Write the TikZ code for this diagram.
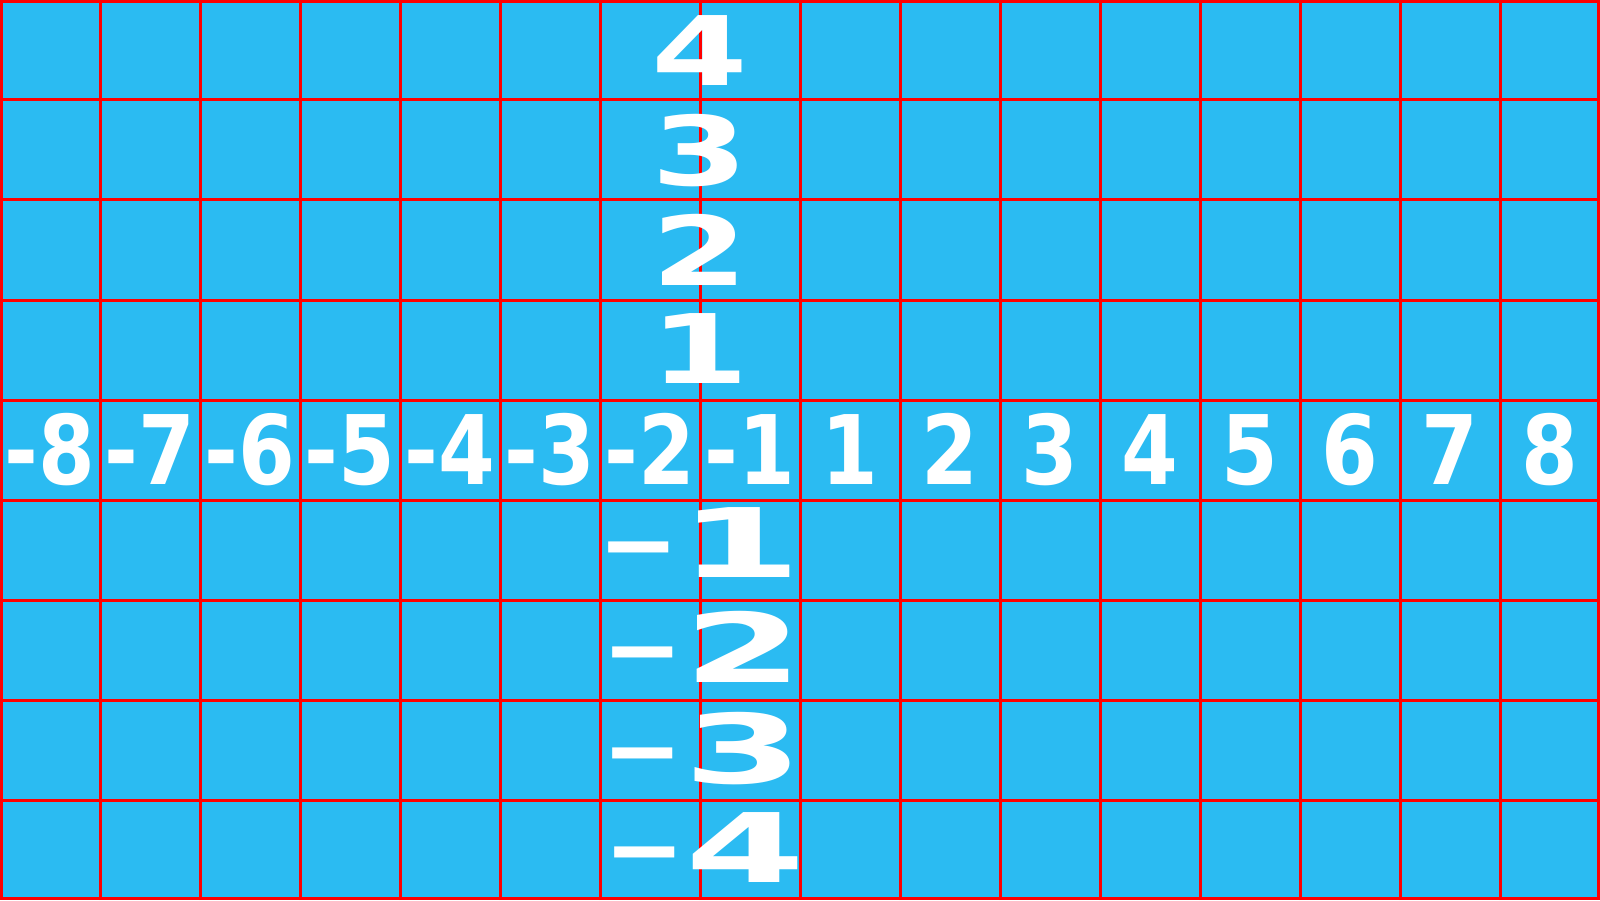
\documentclass[tikz,border=0pt]{standalone}
\usepackage{fontspec}
\setmainfont{DejaVu Sans}[BoldFont={DejaVu Sans Bold}]
\definecolor{bgblue}{RGB}{43,187,242}
\definecolor{gridred}{RGB}{255,0,0}
\tikzset{
  gridline/.style={draw=gridred, line width=0.03cm},
  lab/.style={text=white, inner sep=0pt, anchor=base, font=\fontsize{27.3}{30}\selectfont\bfseries}
}
\begin{document}
\begin{tikzpicture}
\useasboundingbox (0,0) rectangle (16,9);
\fill[bgblue] (0,0) rectangle (16,9);
% grid
\foreach \x in {1,...,15} \draw[gridline] (\x,0) -- (\x,9);
\foreach \y in {1,...,8} \draw[gridline] (0,\y) -- (16,\y);
\draw[gridline] (0.015,0.015) rectangle (15.985,8.985);
% x axis labels
\foreach \v [count=\i] in {8,7,6,5,4,3,2,1}
  \node[lab] (xm\v) at (\i-0.5,4.16) {\scalebox{0.85}[1]{-\v}};
\foreach \v in {1,...,8}
  \node[lab] (xp\v) at (7.5+\v,4.16) {\scalebox{0.85}[1]{\v}};
% y axis labels (positive)
\node[lab] (yp4) at (7.0,8.14) {\scalebox{1.45}[1]{4}};
\node[lab] (yp3) at (7.0,7.14) {\scalebox{1.45}[1]{3}};
\node[lab] (yp2) at (7.0,6.15) {\scalebox{1.45}[1]{2}};
\node[lab] (yp1) at (7.0,5.17) {\scalebox{1.5}[1]{1}};
% y axis labels (negative)
\node[lab] (ym1) at (7.0,3.23) {−\scalebox{1.85}[1]{1}};
\node[lab] (ym2) at (7.03,2.18) {−\scalebox{1.8}[1]{2}};
\node[lab] (ym3) at (7.03,1.17) {−\scalebox{1.8}[1]{3}};
\node[lab] (ym4) at (7.05,0.18) {−\scalebox{1.8}[1]{4}};
\end{tikzpicture}
\end{document}
